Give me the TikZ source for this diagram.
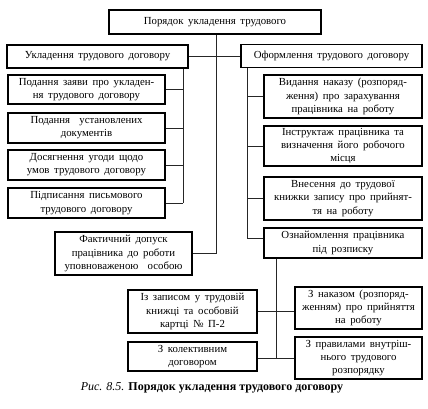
\documentclass[tikz,border=0pt]{standalone}
\usepackage{fontspec}
\setmainfont{Liberation Serif}
\newfontfamily\spaced[WordSpace=1.7]{Liberation Serif}
\begin{document}
\begin{tikzpicture}[x=1pt,y=-1pt,
  box/.style={draw=black, line width=1.2pt, fill=white, align=center, inner sep=0pt,
    font=\spaced\fontsize{10.8}{13.2}\selectfont},
  conn/.style={draw=black!85, line width=0.7pt}]
\useasboundingbox (0,0) rectangle (428,408);
\newcommand\bx[6]{\node[box, minimum width=#3, minimum height=#4] (#5) at (#1,#2) {#6};}
\bx{215}{22}{212}{24}{top}{Порядок укладення трудового}
\bx{97.5}{56.5}{181}{23}{lh}{Укладення трудового договору}
\bx{331.5}{56}{181}{23}{rh}{Оформлення трудового договору}
\bx{86.5}{89.5}{157}{29}{la}{Подання заяви про укладен-\\ня трудового договору}
\bx{86.5}{128}{157}{30}{lb}{Подання \ установлених\\документів}
\bx{86.5}{165}{157}{30}{lc}{Досягнення угоди щодо\\умов трудового договору}
\bx{86.5}{203}{157}{30}{ld}{Підписання письмового\\трудового договору}
\bx{123.5}{253.5}{137}{43}{fa}{Фактичний допуск\\працівника до роботи\\уповноваженою \ особою}
\bx{343}{96.5}{158}{43}{ra}{Видання наказу (розпоряд-\\ження) про зарахування\\працівника на роботу}
\bx{343}{146}{158}{40}{rb}{Інструктаж працівника та\\визначення його робочого\\місця}
\bx{343}{198.5}{158}{43}{rc}{Внесення до трудової\\книжки запису про прийнят-\\тя на роботу}
\bx{343}{243}{158}{30}{rd}{Ознайомлення працівника\\під розписку}
\bx{192.5}{311.5}{129}{43}{ba}{Із записом у трудовій\\книжці та особовій\\картці № П-2}
\bx{192.5}{356.5}{129}{29}{bb}{З колективним\\договором}
\bx{358.5}{308}{127}{42}{bc}{З наказом (розпоряд-\\женням) про прийняття\\на роботу}
\bx{358.5}{358}{127}{42}{bd}{З правилами внутріш-\\нього трудового\\розпорядку}
% connectors
\coordinate (lv) at (183,203);
\draw[conn] (lh.south -| lv) -- (lv);
\foreach \n in {la,lb,lc,ld} \draw[conn] (\n.east) -- (\n.east -| lv);
\coordinate (cv) at (216,253.5);
\draw[conn] (top.south -| cv) -- (cv);
\draw[conn] (fa.east) -- (cv);
\draw[conn] (lh.east) -- (rh.west |- lh.east);
\coordinate (rv) at (247,238);
\draw[conn] (rh.south -| rv) -- (rv);
\foreach \n in {ra,rb,rc} \draw[conn] (\n.west) -- (\n.west -| rv);
\draw[conn] (rv) -- (rd.west |- rv);
\coordinate (bv) at (276,358);
\draw[conn] (rd.south -| bv) -- (bv);
\draw[conn] (ba.east) -- (bc.west |- ba.east);
\draw[conn] (bb.east |- bv) -- (bd.west |- bv);
\node[font=\fontsize{12}{13}\selectfont] (cap) at (212,388) {\textit{Рис. 8.5.} \textbf{Порядок укладення трудового договору}};
\end{tikzpicture}
\end{document}
